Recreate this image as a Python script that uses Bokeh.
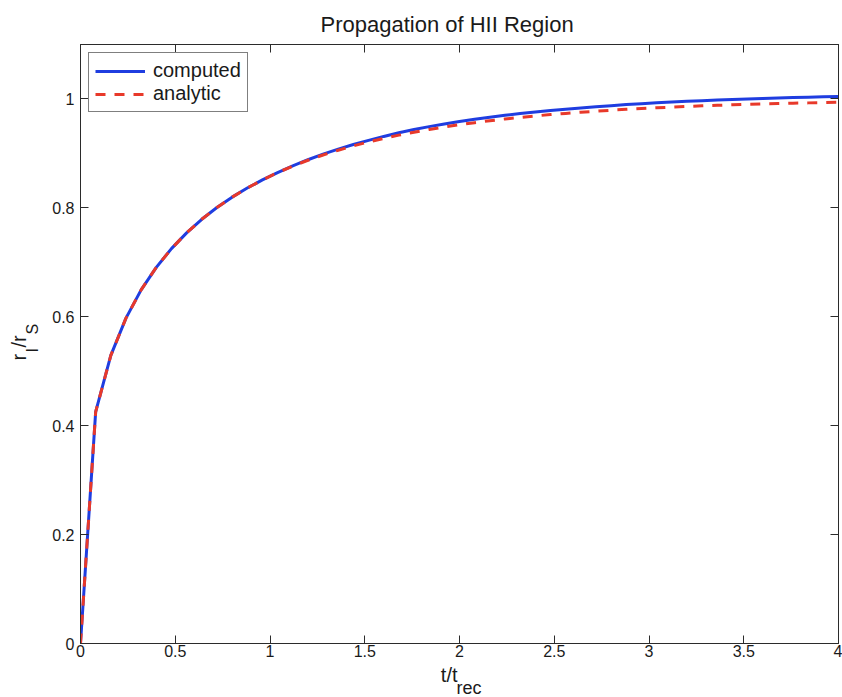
import math
from bokeh.plotting import figure
from bokeh.layouts import row, column
from bokeh.models import ColumnDataSource, Legend, LegendItem, LinearAxis, FixedTicker, Range1d, Label
from bokeh.embed import file_html
from bokeh.resources import INLINE

# ---- data ----
t_values = [0.00, 0.08, 0.16, 0.24, 0.32, 0.40, 0.48, 0.56, 0.64, 0.72,
            0.80, 0.88, 0.96, 1.04, 1.12, 1.20, 1.28, 1.36, 1.44, 1.52,
            1.60, 1.68, 1.76, 1.84, 1.92, 2.00, 2.08, 2.16, 2.24, 2.32,
            2.40, 2.48, 2.56, 2.64, 2.72, 2.80, 2.88, 2.96, 3.04, 3.12,
            3.20, 3.28, 3.36, 3.44, 3.52, 3.60, 3.68, 3.76, 3.84, 3.92, 4.00]

analytic = [0.0000, 0.4252, 0.5290, 0.5975, 0.6494, 0.6908, 0.7251, 0.7540, 0.7790, 0.8007,
            0.8197, 0.8364, 0.8513, 0.8647, 0.8767, 0.8874, 0.8971, 0.9058, 0.9138, 0.9210,
            0.9276, 0.9336, 0.9390, 0.9440, 0.9485, 0.9527, 0.9565, 0.9600, 0.9632, 0.9661,
            0.9688, 0.9713, 0.9735, 0.9756, 0.9775, 0.9793, 0.9809, 0.9824, 0.9838, 0.9850,
            0.9862, 0.9873, 0.9883, 0.9892, 0.9900, 0.9908, 0.9915, 0.9922, 0.9928, 0.9934, 0.9939]

computed = [0.0000, 0.4252, 0.5290, 0.5975, 0.6494, 0.6908, 0.7251, 0.7540, 0.7790, 0.8007,
            0.8197, 0.8364, 0.8513, 0.8648, 0.8772, 0.8884, 0.8986, 0.9078, 0.9163, 0.9240,
            0.9312, 0.9378, 0.9438, 0.9492, 0.9541, 0.9587, 0.9628, 0.9665, 0.9699, 0.9731,
            0.9760, 0.9788, 0.9812, 0.9836, 0.9857, 0.9877, 0.9896, 0.9913, 0.9929, 0.9943,
            0.9956, 0.9969, 0.9980, 0.9991, 1.0000, 1.0009, 1.0017, 1.0025, 1.0032, 1.0039, 1.0045]

x_ticks = [0, 0.5, 1, 1.5, 2, 2.5, 3, 3.5, 4]
x_tick_labels = ["0", "0.5", "1", "1.5", "2", "2.5", "3", "3.5", "4"]
y_ticks = [0, 0.2, 0.4, 0.6, 0.8, 1.0]
y_tick_labels = ["0", "0.2", "0.4", "0.6", "0.8", "1"]

title_text = "Propagation of HII Region"
series_names = ["computed", "analytic"]
x_label_parts = ["t/t", "rec"]
y_label_parts = ["r", "I", "/r", "S"]

FONT = "Liberation Sans"
TXT = "#1a1a1a"
AX = "#2b2b2b"
BLUE = "#1f3de0"
RED = "#e8392a"

W, H = 842, 697
LEFT_STRIP = 45          # strip holding the y-axis title
P_H = 663                # height of the main figure
FRAME_L, FRAME_R = 80, 838
X0, X1 = 0.0, 4.0
Y0, Y1 = 0.0, 1.1

p = figure(width=W - LEFT_STRIP, height=P_H,
           min_border_left=FRAME_L - LEFT_STRIP, min_border_right=W - FRAME_R,
           min_border_top=44, min_border_bottom=P_H - 643,
           x_range=Range1d(X0, X1), y_range=Range1d(Y0, Y1),
           toolbar_location=None, output_backend="svg",
           x_axis_location=None, y_axis_location=None)
p.background_fill_color = "white"
p.border_fill_color = "white"
p.grid.visible = False
p.outline_line_color = AX
p.outline_line_width = 1

p.title.text = title_text
p.title.align = "left"
p.title.offset = 240
p.title.text_font = FONT
p.title.text_font_size = "22px"
p.title.text_font_style = "normal"
p.title.text_color = TXT
p.title.standoff = 15


def style_axis(ax, ticks, labels, show_labels, standoff):
    ax.ticker = FixedTicker(ticks=ticks)
    ax.major_label_overrides = {t: l for t, l in zip(ticks, labels)}
    ax.major_tick_in = 8
    ax.major_tick_out = 0
    ax.minor_tick_in = 0
    ax.minor_tick_out = 0
    ax.axis_line_color = AX
    ax.major_tick_line_color = AX
    ax.major_label_text_font = FONT
    ax.major_label_text_color = TXT
    if show_labels:
        ax.major_label_text_font_size = "16px"
        ax.major_label_standoff = standoff
    else:
        ax.major_label_text_font_size = "0px"
        ax.major_label_standoff = 0
        ax.major_label_text_color = None


xb = LinearAxis(); style_axis(xb, x_ticks, x_tick_labels, True, 1)
yl = LinearAxis(); style_axis(yl, y_ticks, y_tick_labels, True, 6)
xt = LinearAxis(); style_axis(xt, x_ticks, x_tick_labels, False, 0)
yr = LinearAxis(); style_axis(yr, y_ticks, y_tick_labels, False, 0)
p.add_layout(xb, "below")
p.add_layout(yl, "left")
p.add_layout(xt, "above")
p.add_layout(yr, "right")

src = ColumnDataSource(data=dict(t=t_values, computed=computed, analytic=analytic))
r1 = p.line("t", "computed", source=src, line_color=BLUE, line_width=3)
r2 = p.line("t", "analytic", source=src, line_color=RED, line_width=3, line_dash="10 9")

legend = Legend(items=[LegendItem(label=series_names[0], renderers=[r1]),
                       LegendItem(label=series_names[1], renderers=[r2])],
                location="top_left", margin=8, padding=6, spacing=0,
                glyph_width=50, glyph_height=20, label_height=20, label_standoff=8,
                label_text_font=FONT, label_text_font_size="20px", label_text_color=TXT,
                border_line_color="black", border_line_width=1,
                background_fill_color="white", background_fill_alpha=1)
p.add_layout(legend, "center")


def blank(width, height, xr, yr_):
    f = figure(width=width, height=height, x_range=Range1d(*xr), y_range=Range1d(*yr_),
               min_border=0, toolbar_location=None, output_backend="svg", title=None,
               x_axis_location=None, y_axis_location=None)
    f.grid.visible = False
    f.outline_line_color = None
    f.background_fill_color = "white"
    f.border_fill_color = "white"
    return f


def lab(f, text, px, py, size, angle=0.0, align="left"):
    f.add_layout(Label(x=px, y=py, text=text, text_font=FONT, text_font_size=size,
                       text_color=TXT, angle=angle, text_align=align,
                       text_baseline="alphabetic"))


# left strip: y-axis title r_I/r_S (page pixel coordinates)
ylab = blank(LEFT_STRIP, H, (0, LEFT_STRIP), (H, 0))
A = math.pi / 2
lab(ylab, y_label_parts[0], 18, 360, "20px", A)
lab(ylab, y_label_parts[1], 32, 352, "16px", A)
lab(ylab, y_label_parts[2], 18, 347, "20px", A)
lab(ylab, y_label_parts[3], 32, 334, "16px", A)

# bottom strip (its frame lines up with the main frame): x-axis title t/t_rec
xlab = blank(W - LEFT_STRIP, H - P_H, (FRAME_L, FRAME_R), (H, P_H))
lab(xlab, x_label_parts[0], 457, 674, "20px", align="right")
lab(xlab, x_label_parts[1], 456, 687, "18px")

layout = row(ylab, column(p, xlab, spacing=0), spacing=0)

open("out.html", "w").write(file_html(layout, INLINE))
